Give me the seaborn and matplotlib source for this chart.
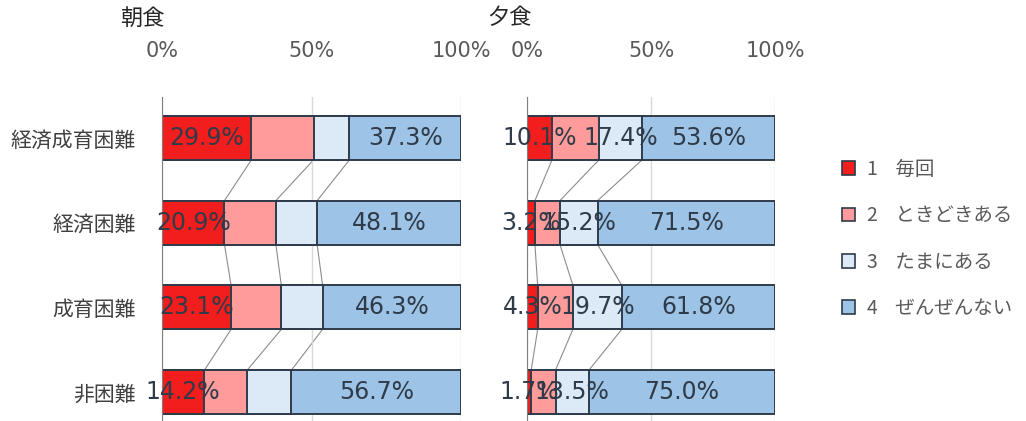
import numpy as np
import matplotlib
matplotlib.use("Agg")
import matplotlib.pyplot as plt
import seaborn as sns
from matplotlib.patches import Patch

# data
groups = ["経済成育困難", "経済困難", "成育困難", "非困難"]
answer_names = ["毎回", "ときどきある", "たまにある", "ぜんぜんない"]
answer_codes = ["1", "2", "3", "4"]

breakfast_every = [29.9, 20.9, 23.1, 14.2]
breakfast_sometimes = [20.8, 17.2, 16.8, 14.3]
breakfast_rarely = [12.0, 13.8, 13.8, 14.8]
breakfast_never = [37.3, 48.1, 46.3, 56.7]

dinner_every = [10.1, 3.2, 4.3, 1.7]
dinner_sometimes = [18.9, 10.1, 14.2, 9.8]
dinner_rarely = [17.4, 15.2, 19.7, 13.5]
dinner_never = [53.6, 71.5, 61.8, 75.0]

colors = ["#F21D1D", "#FF9B9B", "#DCE9F6", "#9DC3E6"]
edge = "#2E3B4A"
bar_h = 0.52

sns.set_style("white")
plt.rcParams["font.family"] = ["Noto Sans CJK JP", "DejaVu Sans"]


def draw_panel(ax, parts, shown):
    parts = np.array(parts)
    cum = np.cumsum(parts, axis=0)
    # draw the longest cumulative bar first, the rest over it
    for k in range(3, -1, -1):
        sns.barplot(x=cum[k], y=groups, orient="y", color=colors[k], saturation=1,
                    width=bar_h, edgecolor=edge, linewidth=1.4, errorbar=None, ax=ax)
    # series lines between the bars
    for k in range(3):
        for i in range(len(groups) - 1):
            ax.plot([cum[k][i], cum[k][i + 1]], [i + bar_h / 2, i + 1 - bar_h / 2],
                    color="#8C8C8C", lw=0.8, zorder=0.5)
    for k in shown:
        for i in range(len(groups)):
            ax.text(cum[k][i] - parts[k][i] / 2, i, f"{parts[k][i]:.1f}%",
                    ha="center", va="center", fontsize=17, color="#2F3B48",
                    family="DejaVu Sans")
    ax.set_xlim(0, 100)
    ax.set_ylim(3.341, -0.482)
    ax.xaxis.tick_top()
    ax.set_xticks([0, 50, 100])
    ax.set_xticklabels(["0%", "50%", "100%"], family="DejaVu Sans")
    ax.tick_params(axis="x", length=0, pad=26, labelsize=15, labelcolor="#595959")
    ax.tick_params(axis="y", length=0, pad=19, labelsize=15, labelcolor="#404040")
    ax.grid(axis="x", color="#D9D9D9", lw=1)
    ax.set_axisbelow(True)
    for s in ["top", "right", "bottom"]:
        ax.spines[s].set_visible(False)
    ax.spines["left"].set_color("#7F7F7F")
    ax.set_xlabel("")
    ax.set_ylabel("")


fig = plt.figure(figsize=(10.26, 4.21), dpi=100)
ax1 = fig.add_axes([162 / 1026, 0, 299 / 1026, 324 / 421])
ax2 = fig.add_axes([527 / 1026, 0, 248 / 1026, 324 / 421])

draw_panel(ax1, [breakfast_every, breakfast_sometimes, breakfast_rarely, breakfast_never], [0, 3])
draw_panel(ax2, [dinner_every, dinner_sometimes, dinner_rarely, dinner_never], [0, 2, 3])
ax2.tick_params(axis="y", labelleft=False)

fig.text(142 / 1026, 1 - 18 / 421, "朝食", ha="center", va="center", fontsize=16)
fig.text(510 / 1026, 1 - 18 / 421, "夕食", ha="center", va="center", fontsize=16)

handles = [Patch(facecolor=c, edgecolor=edge, lw=1.2) for c in colors]
labels = [f"{c}    {n}" for c, n in zip(answer_codes, answer_names)]
leg = fig.legend(handles, labels, loc="center left", bbox_to_anchor=(832 / 1026, 1 - 239 / 421),
                 frameon=False, fontsize=14, handlelength=0.7, handleheight=0.7,
                 handletextpad=0.6, labelspacing=1.3, borderpad=0)
for t in leg.get_texts():
    t.set_color("#595959")

fig.savefig("out.png", dpi=100)
